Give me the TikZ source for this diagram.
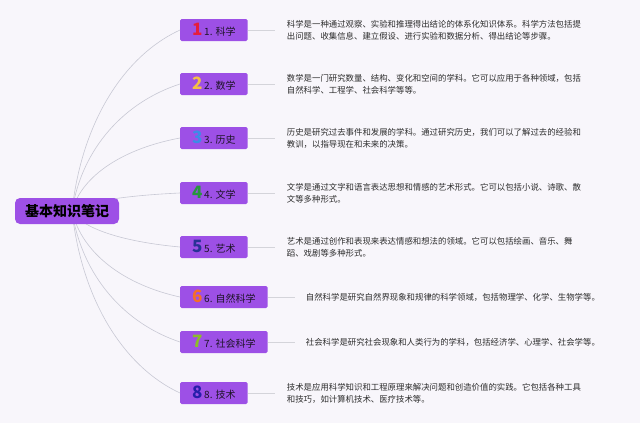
\documentclass[tikz,border=0pt]{standalone}
\usepackage{fontspec}
\setmainfont{Noto Sans CJK SC}
\usetikzlibrary{positioning}

\newcommand{\bigdigit}[2]{{\color{#1}\fontsize{17}{17}\selectfont\bfseries #2}\,}

\begin{document}
\begin{tikzpicture}[x=1pt,y=-1pt,
    rootbox/.style={fill=r157g80b230,rounded corners=5pt,minimum width=104pt,minimum height=26pt,
      inner sep=0pt,font=\fontsize{14}{14}\selectfont\bfseries,text=black},
    branchbox/.style={fill=r157g80b230,rounded corners=1.5pt,minimum height=22pt,inner xsep=12pt,
      inner ysep=2pt,anchor=west,font=\fontsize{10}{10}\selectfont,text=r30g20b40},
    desc/.style={inner sep=0pt,align=left,font=\fontsize{8.4}{12}\selectfont,text=r45g45b45},
    twig/.style={draw=r200g200b212,line width=0.6pt},
    stub/.style={draw=r212g212b218,line width=0.6pt}]

    % Changing colors
    \definecolor{r157g80b230}{RGB}{157,80,230}%
    \definecolor{r30g20b40}{RGB}{30,20,40}%
    \definecolor{r45g45b45}{RGB}{45,45,45}%
    \definecolor{r200g200b212}{RGB}{200,200,212}%
    \definecolor{r212g212b218}{RGB}{212,212,218}%
    \definecolor{r248g246b251}{RGB}{248,246,251}%
    % digit colors
    \definecolor{r230g30b60}{RGB}{230,30,60}%
    \definecolor{r245g192b70}{RGB}{245,192,70}%
    \definecolor{r60g140b230}{RGB}{60,140,230}%
    \definecolor{r40g150b60}{RGB}{40,150,60}%
    \definecolor{r40g50b150}{RGB}{40,50,150}%
    \definecolor{r245g110b40}{RGB}{245,110,40}%
    \definecolor{r140g190b40}{RGB}{140,190,40}%
    \definecolor{r40g30b170}{RGB}{40,30,170}%

    % Filling background
    \fill[r248g246b251] (0,0) rectangle (640,423);
    \useasboundingbox (0,0) rectangle (640,423);

    % Hub of the branches, under the root
    \coordinate (hub) at (72,211);

    % Branch nodes
    \node[branchbox] (b1) at (180,30)  {\bigdigit{r230g30b60}{1}1. 科学};
    \node[branchbox] (b2) at (180,84)  {\bigdigit{r245g192b70}{2}2. 数学};
    \node[branchbox] (b3) at (180,138) {\bigdigit{r60g140b230}{3}3. 历史};
    \node[branchbox] (b4) at (180,193) {\bigdigit{r40g150b60}{4}4. 文学};
    \node[branchbox] (b5) at (180,247) {\bigdigit{r40g50b150}{5}5. 艺术};
    \node[branchbox] (b6) at (180,297) {\bigdigit{r245g110b40}{6}6. 自然科学};
    \node[branchbox] (b7) at (180,342) {\bigdigit{r140g190b40}{7}7. 社会科学};
    \node[branchbox] (b8) at (180,393) {\bigdigit{r40g30b170}{8}8. 技术};

    % Drawing curves hub -> branches
    \draw[twig] (hub) .. controls (82,120.5) and (125,55.3)  .. (b1.west);
    \draw[twig] (hub) .. controls (82,147.5) and (125,101.8) .. (b2.west);
    \draw[twig] (hub) .. controls (82,174.5) and (125,148.2) .. (b3.west);
    \draw[twig] (hub) .. controls (82,202)   and (125,195.5) .. (b4.west);
    \draw[twig] (hub) .. controls (82,229)   and (125,242)   .. (b5.west);
    \draw[twig] (hub) .. controls (82,254)   and (125,285)   .. (b6.west);
    \draw[twig] (hub) .. controls (82,276.5) and (125,323.7) .. (b7.west);
    \draw[twig] (hub) .. controls (82,302)   and (125,367.5) .. (b8.west);

    % Root node
    \node[rootbox] (root) at (67,211) {基本知识笔记};

    % Stub ends
    \coordinate (e1) at ([xshift=27pt]b1.east);
    \coordinate (e2) at ([xshift=27pt]b2.east);
    \coordinate (e3) at ([xshift=27pt]b3.east);
    \coordinate (e4) at ([xshift=27pt]b4.east);
    \coordinate (e5) at ([xshift=27pt]b5.east);
    \coordinate (e6) at ([xshift=27pt]b6.east);
    \coordinate (e7) at ([xshift=27pt]b7.east);
    \coordinate (e8) at ([xshift=27pt]b8.east);

    % Drawing stubs
    \draw[stub] (b1.east) -- (e1);
    \draw[stub] (b2.east) -- (e2);
    \draw[stub] (b3.east) -- (e3);
    \draw[stub] (b4.east) -- (e4);
    \draw[stub] (b5.east) -- (e5);
    \draw[stub] (b6.east) -- (e6);
    \draw[stub] (b7.east) -- (e7);
    \draw[stub] (b8.east) -- (e8);

    % Descriptions
    \node[desc,right=12pt of e1] (d1) {科学是一种通过观察、实验和推理得出结论的体系化知识体系。科学方法包括提\\出问题、收集信息、建立假设、进行实验和数据分析、得出结论等步骤。};
    \node[desc,right=12pt of e2] (d2) {数学是一门研究数量、结构、变化和空间的学科。它可以应用于各种领域，包括\\自然科学、工程学、社会科学等等。};
    \node[desc,right=12pt of e3] (d3) {历史是研究过去事件和发展的学科。通过研究历史，我们可以了解过去的经验和\\教训，以指导现在和未来的决策。};
    \node[desc,right=12pt of e4] (d4) {文学是通过文字和语言表达思想和情感的艺术形式。它可以包括小说、诗歌、散\\文等多种形式。};
    \node[desc,right=12pt of e5] (d5) {艺术是通过创作和表现来表达情感和想法的领域。它可以包括绘画、音乐、舞\\蹈、戏剧等多种形式。};
    \node[desc,right=11pt of e6] (d6) {自然科学是研究自然界现象和规律的科学领域，包括物理学、化学、生物学等。};
    \node[desc,right=11pt of e7] (d7) {社会科学是研究社会现象和人类行为的学科，包括经济学、心理学、社会学等。};
    \node[desc,right=12pt of e8] (d8) {技术是应用科学知识和工程原理来解决问题和创造价值的实践。它包括各种工具\\和技巧，如计算机技术、医疗技术等。};
\end{tikzpicture}
\end{document}
